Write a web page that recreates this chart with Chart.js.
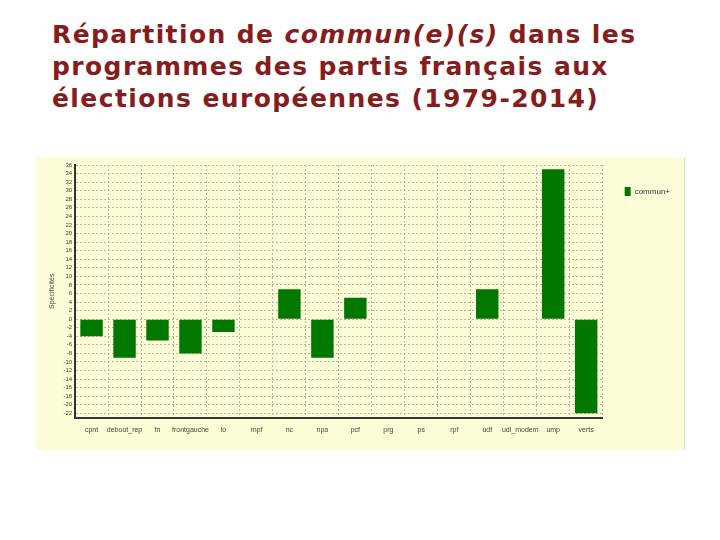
<!DOCTYPE html>
<html>
<head>
<meta charset="utf-8">
<script src="https://cdn.jsdelivr.net/npm/chart.js@4"></script>
<style>
body { margin: 0; width: 720px; height: 540px; background: #fff; position: relative; font-family: "DejaVu Sans", Verdana, sans-serif; }
#title { position: absolute; left: 52px; top: 19px; font-size: 25px; letter-spacing: 1.4px; font-weight: bold; color: #861c1c; line-height: 32px; }
#panel { position: absolute; left: 36px; top: 157px; width: 648px; height: 293px; background: #fcfcd6; border-right: 1px solid #ddd; }
</style>
</head>
<body>
<div id="title">Répartition de <i>commun(e)(s)</i> dans les<br>programmes des partis français aux<br>élections européennes (1979-2014)</div>
<div id="panel"><canvas id="chart" width="648" height="293"></canvas></div>
<script>
const parties = ['cpnt','debout_rep','fn','frontgauche','lo','rnpf','nc','npa','pcf','prg','ps','rpf','udf','udi_modem','ump','verts'];
const specificites = [-4,-9,-5,-8,-3,0,7,-9,5,0,0,0,7,0,35,-22];

new Chart('chart', {
	type: 'bar',
	data: {
		labels: parties,
		datasets: [{
			label: 'commun+',
			data: specificites,
			backgroundColor: '#007800',
			borderColor: '#007800',
			categoryPercentage: 1,
			barPercentage: 0.68,
		}],
	},
	options: {
		responsive: false,
		animation: false,
		layout: {padding: {left: 8, top: 8, right: 4, bottom: 8}},
		plugins: {
			legend: {
				position: 'right',
				align: 'start',
				labels: {boxWidth: 6, boxHeight: 9, font: {size: 8}, color: '#333', padding: 22},
			},
			tooltip: {enabled: false},
		},
		scales: {
			x: {
				grid: {color: '#b8b8a0', drawTicks: false},
				border: {color: '#333', width: 2, dash: [2, 2]},
				ticks: {font: {size: 7}, color: '#444', padding: 8, maxRotation: 0, autoSkip: false},
			},
			y: {
				min: -23, max: 36,
				afterBuildTicks: axis => {
					axis.ticks = [];
					for (let v = -22; v <= 36; v += 2) axis.ticks.push({value: v});
				},
				grid: {color: '#b8b8a0', drawTicks: false},
				border: {color: '#333', width: 2, dash: [2, 2]},
				ticks: {font: {size: 6}, color: '#444', padding: 3, autoSkip: false},
				title: {display: true, text: 'Spécificités', font: {size: 7}, color: '#444'},
			},
		},
	},
});
</script>
</body>
</html>
